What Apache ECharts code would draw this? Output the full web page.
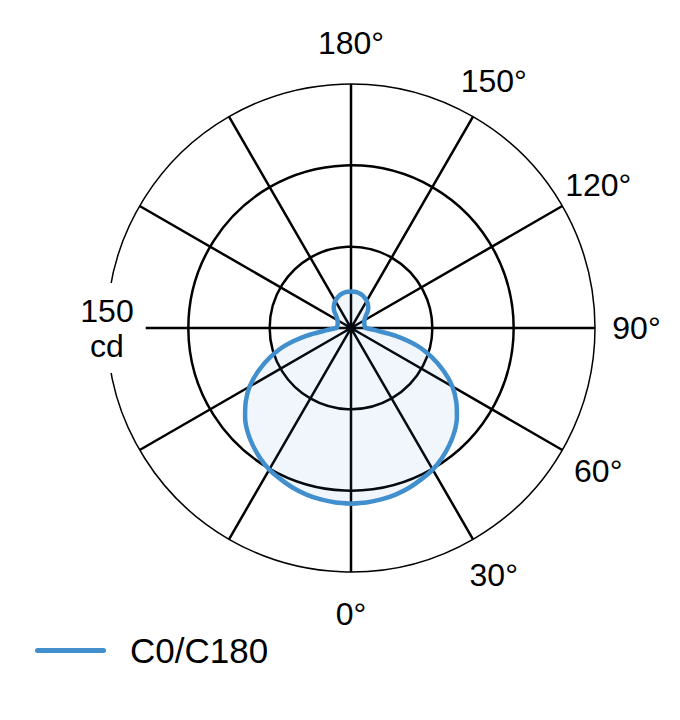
<!DOCTYPE html>
<html>
<head>
<meta charset="utf-8">
<script src="https://cdn.jsdelivr.net/npm/echarts@6/dist/echarts.min.js"></script>
<style>
  html, body { margin: 0; padding: 0; background: #fff; }
  #chart { width: 680px; height: 720px; }
</style>
</head>
<body>
<div id="chart"></div>
<script>
// Polar angles (degrees, 0 = down, 180 = up) for one half of the C0/C180 plane
const halfAngles = [0, 5, 10, 15, 20, 25, 30, 35, 40, 45, 50, 55, 60, 65, 70, 75, 80, 85, 90,
  95, 100, 105, 110, 115, 120, 125, 130, 135, 140, 145, 150, 155, 160, 165, 170, 175, 180];
// Luminous intensity (cd)
const c0c180 = [108, 107.7, 107, 106, 104.5, 102.5, 100.5, 97.5, 94, 90, 85, 79, 72, 63, 53, 42, 28, 15, 9,
  8.5, 8.5, 8.5, 8.7, 9, 9.5, 10.5, 12, 14.5, 16.5, 18, 19.3, 20.3, 21.2, 21.8, 22.2, 22.4, 22.5];
// Tick labels
const tickAngles = [0, 30, 60, 90, 120, 150, 180];
const tickLabels = ['0°', '30°', '60°', '90°', '120°', '150°', '180°'];
const radiusMax = 150;
const unitLabel = '150\ncd';
const seriesName = 'C0/C180';

// The plane is symmetric: the other half (180..360) mirrors the measured half.
const loop = [];
halfAngles.forEach((a, i) => loop.push([c0c180[i], a]));
for (let i = halfAngles.length - 2; i >= 0; i--) loop.push([c0c180[i], 360 - halfAngles[i]]);

const FONT = "'Liberation Sans', Arial, Helvetica, sans-serif";
const LINE = '#428fcd';
const plainLabel = {
  show: true, position: 'inside', formatter: '{b}', fontFamily: FONT, fontSize: 32,
  color: '#000', opacity: 1, textBorderWidth: 0, textBorderColor: 'transparent',
  textShadowBlur: 0
};

const chart = echarts.init(document.getElementById('chart'), null, { renderer: 'svg' });
chart.setOption({
  animation: false,
  backgroundColor: '#fff',
  polar: { center: [351, 328], radius: 244 },
  angleAxis: {
    type: 'value', min: 0, max: 360, interval: 30,
    startAngle: -90, clockwise: false, z: 0,
    axisLine: { show: true, lineStyle: { color: '#000', width: 1.5 } },
    axisTick: { show: false },
    axisLabel: { show: false },
    splitLine: { show: true, lineStyle: { color: '#000', width: 2.5 } }
  },
  radiusAxis: {
    type: 'value', min: 0, max: radiusMax, interval: 50, z: 0,
    axisLine: { show: false }, axisTick: { show: false }, axisLabel: { show: false },
    splitLine: { show: true, lineStyle: { color: ['#000', '#000', '#000', 'rgba(0,0,0,0)'], width: 2.5 } }
  },
  legend: {
    data: [{ name: seriesName, icon: 'path://M2.5,0 H68.5 A2.5,2.5 0 0 1 68.5,5 H2.5 A2.5,2.5 0 0 1 2.5,0 Z' }],
    left: 30, top: 628,
    itemWidth: 71, itemHeight: 5,
    itemStyle: { color: LINE },
    textStyle: { fontFamily: FONT, fontSize: 35, color: '#000', padding: [0, 0, 0, 19] }
  },
  series: [
    {
      name: seriesName, type: 'line', coordinateSystem: 'polar',
      data: loop, symbol: 'none', smooth: 0.3,
      lineStyle: { color: LINE, width: 4.5, cap: 'round', join: 'round' },
      itemStyle: { color: LINE },
      areaStyle: { color: 'rgba(66,143,206,0.11)' },
      z: 2
    },
    {
      name: 'ticks', type: 'scatter', coordinateSystem: 'polar', clip: false,
      symbolSize: 1, itemStyle: { color: '#fff', opacity: 0 }, silent: true,
      data: tickAngles.map((a, i) => ({ value: [radiusMax * 285.5 / 244, a], name: tickLabels[i] })),
      label: plainLabel,
      z: 10
    },
    {
      name: 'unit', type: 'scatter', coordinateSystem: 'polar', clip: false,
      symbolSize: 1, itemStyle: { color: '#fff', opacity: 0 }, silent: true,
      data: [{ value: [radiusMax, 270], name: unitLabel }],
      label: Object.assign({}, plainLabel, { lineHeight: 35, backgroundColor: '#fff', padding: [10, 12] }),
      z: 10
    }
  ]
});
</script>
</body>
</html>
